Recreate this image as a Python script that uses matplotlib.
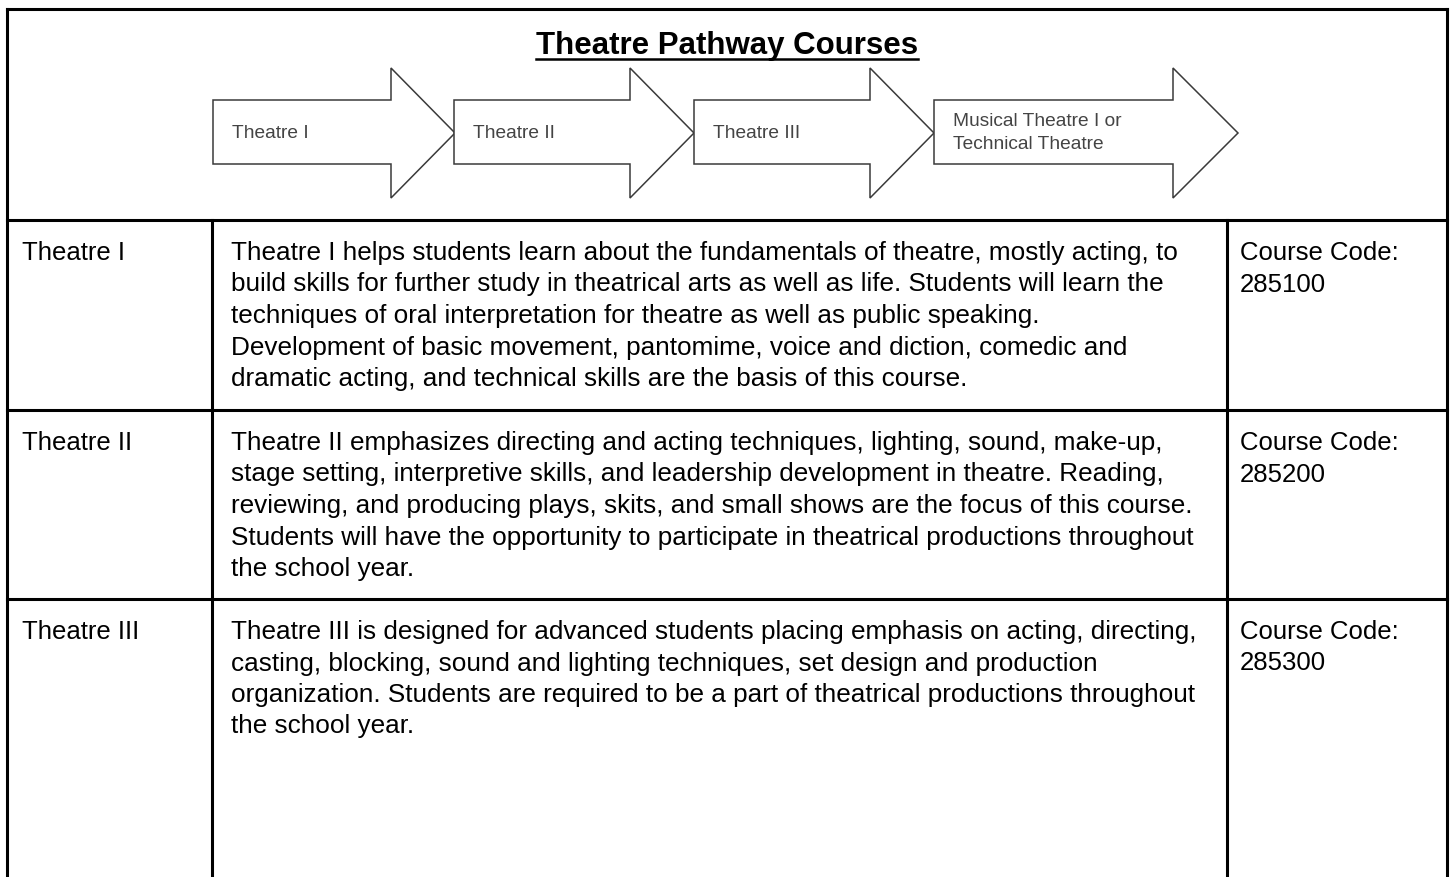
import matplotlib
matplotlib.use("Agg")
import matplotlib.pyplot as plt
from matplotlib.patches import Polygon

plt.rcParams['font.family'] = ['Liberation Sans', 'DejaVu Sans']

title = "Theatre Pathway Courses"
pathway = ["Theatre I", "Theatre II", "Theatre III",
           "Musical Theatre I or\nTechnical Theatre"]

courses = ["Theatre I", "Theatre II", "Theatre III"]
descriptions = [
    ["Theatre I helps students learn about the fundamentals of theatre, mostly acting, to",
     "build skills for further study in theatrical arts as well as life. Students will learn the",
     "techniques of oral interpretation for theatre as well as public speaking.",
     "Development of basic movement, pantomime, voice and diction, comedic and",
     "dramatic acting, and technical skills are the basis of this course."],
    ["Theatre II emphasizes directing and acting techniques, lighting, sound, make-up,",
     "stage setting, interpretive skills, and leadership development in theatre. Reading,",
     "reviewing, and producing plays, skits, and small shows are the focus of this course.",
     "Students will have the opportunity to participate in theatrical productions throughout",
     "the school year."],
    ["Theatre III is designed for advanced students placing emphasis on acting, directing,",
     "casting, blocking, sound and lighting techniques, set design and production",
     "organization. Students are required to be a part of theatrical productions throughout",
     "the school year."],
]
codes = ["285100", "285200", "285300"]

W, H = 1451, 877
fig = plt.figure(figsize=(W / 100, H / 100), dpi=100)
ax = fig.add_axes([0, 0, 1, 1])
ax.set_xlim(0, W)
ax.set_ylim(H, 0)
ax.axis('off')

# table frame
left, right, top = 7, 1447, 9
col1, col2 = 212, 1227
row_tops = [220, 410, 599]
lw = 2.2
ax.plot([left, right], [top, top], color='black', lw=lw, solid_capstyle='projecting')
ax.plot([left, left], [top, H], color='black', lw=lw)
ax.plot([right, right], [top, H], color='black', lw=lw)
for y in row_tops:
    ax.plot([left, right], [y, y], color='black', lw=lw)
for x in (col1, col2):
    ax.plot([x, x], [row_tops[0], H], color='black', lw=lw)

# title, underlined
t = ax.text((left + right) / 2, 54, title, fontsize=22.5, fontweight='bold',
            ha='center', va='baseline')
fig.canvas.draw()
bb = t.get_window_extent().transformed(ax.transData.inverted())
ax.plot([bb.x0, bb.x1], [58.5, 58.5], color='black', lw=1.8)

# pathway arrows
starts = [213, 454, 694, 934]
ends = [455, 694, 934, 1238]
head = [64, 64, 64, 65]
for i, label in enumerate(pathway):
    x0, x2 = starts[i], ends[i]
    x1 = x2 - head[i]
    pts = [(x0, 100), (x1, 100), (x1, 68), (x2, 133), (x1, 198), (x1, 164), (x0, 164)]
    ax.add_patch(Polygon(pts, closed=True, facecolor='white', edgecolor='#3a3a3a', lw=1.1, zorder=2))
    ax.text(x0 + 19, 133, label, fontsize=13.8, color='#444444', ha='left', va='center',
            linespacing=1.4, zorder=3)

# table body
pitch = 31.5
for r, name in enumerate(courses):
    base = row_tops[r] + 40
    ax.text(22, base, name, fontsize=18.5, ha='left', va='baseline')
    for k, line in enumerate(descriptions[r]):
        ax.text(231, base + k * pitch, line, fontsize=18.8, ha='left', va='baseline')
    ax.text(1240, base, "Course Code:", fontsize=18.5, ha='left', va='baseline')
    ax.text(1240, base + pitch, codes[r], fontsize=18.5, ha='left', va='baseline')

fig.savefig("out.png", dpi=100, facecolor='white')
